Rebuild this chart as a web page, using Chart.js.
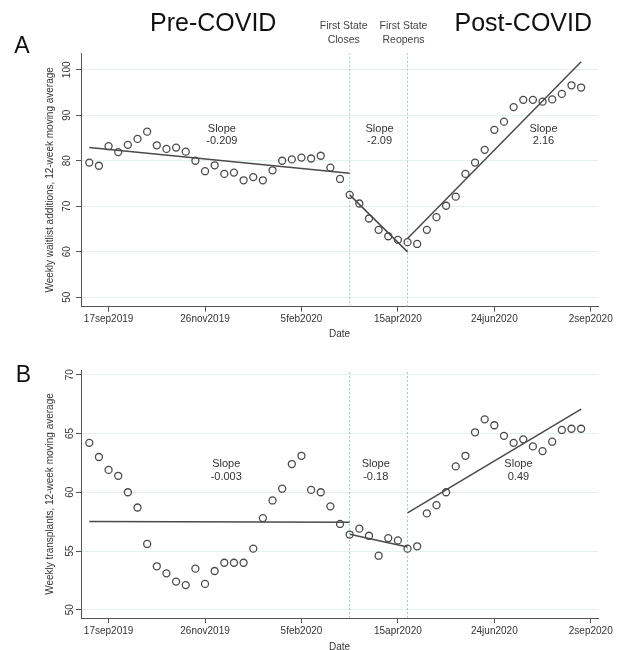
<!DOCTYPE html>
<html>
<head>
<meta charset="utf-8">
<script src="https://cdn.jsdelivr.net/npm/chart.js@4.4.1/dist/chart.umd.min.js"></script>
<style>
  body { margin: 0; background: #fff; }
  #wrap { position: relative; width: 623px; height: 650px; overflow: hidden; }
  canvas { position: absolute; left: 0; }
</style>
</head>
<body>
<div id="wrap">
  <canvas id="chartA" width="623" height="340" style="top:0"></canvas>
  <canvas id="chartB" width="623" height="316" style="top:340px"></canvas>
</div>
<script>
// x values are weeks counted from 17sep2019; first observation is 3sep2019
const firstWeek = -2;

const waitlist = [79.6, 78.9, 83.2, 81.9, 83.5, 84.8, 86.4, 83.4, 82.6, 82.9,
  82.0, 80.0, 77.7, 79.0, 77.1, 77.4, 75.7, 76.4, 75.7, 77.9,
  80.0, 80.3, 80.7, 80.5, 81.1, 78.5, 76.0, 72.5, 70.6, 67.3,
  64.8, 63.4, 62.6, 62.1, 61.7, 64.8, 67.6, 70.1, 72.1, 77.1,
  79.6, 82.4, 86.8, 88.6, 91.8, 93.4, 93.4, 93.0, 93.5, 94.7,
  96.6, 96.1];

const transplants = [64.2, 63.0, 61.9, 61.4, 60.0, 58.7, 55.6, 53.7, 53.1, 52.4,
  52.1, 53.5, 52.2, 53.3, 54.0, 54.0, 54.0, 55.2, 57.8, 59.3,
  60.3, 62.4, 63.1, 60.2, 60.0, 58.8, 57.3, 56.4, 56.9, 56.3,
  54.6, 56.1, 55.9, 55.2, 55.4, 58.2, 58.9, 60.0, 62.2, 63.1,
  65.1, 66.2, 65.7, 64.8, 64.2, 64.5, 63.9, 63.5, 64.3, 65.3,
  65.4, 65.4];

// segment borders (weeks): pre-COVID, closed, reopened
const segmentWeeks = [-2, 25, 31, 49];
const closeWeek = 25;   // first state closes
const reopenWeek = 31;  // first state reopens

const slopesA = [-0.209, -2.09, 2.16];
const fitStartA = [82.9, 72.5, 62.9];
const slopesB = [-0.003, -0.18, 0.49];
const fitStartB = [57.52, 56.42, 58.25];

// where the "Slope" notes sit (week, value)
const slopeNoteWeeksA = [11.75, 28.1, 45.1];
const slopeNoteValueA = 87.0;
const slopeNoteWeeksB = [12.2, 27.7, 42.5];
const slopeNoteValueB = 62.4;

const xTickWeeks = [0, 10, 20, 30, 40, 50];
const xTickLabels = ['17sep2019', '26nov2019', '5feb2020', '15apr2020', '24jun2020', '2sep2020'];
const yTicksA = [50, 60, 70, 80, 90, 100];
const yTicksB = [50, 55, 60, 65, 70];

const FONT = "'Liberation Sans', Arial, sans-serif";
const INK = '#4a4a4a';
const TEXT = '#333';

function fitLines(starts, slopes) {
  return starts.map((s, i) => {
    const x0 = segmentWeeks[i], x1 = segmentWeeks[i + 1];
    return {
      type: 'line',
      data: [{ x: x0, y: s }, { x: x1, y: s + slopes[i] * (x1 - x0) }],
      borderColor: INK,
      borderWidth: 1.5,
      pointRadius: 0,
      order: 1,
    };
  });
}

function vLine(week, yMin, yMax) {
  return {
    type: 'line',
    data: [{ x: week, y: yMin }, { x: week, y: yMax }],
    borderColor: '#96cfcf',
    borderDash: [2, 2],
    borderWidth: 1,
    pointRadius: 0,
    order: 3,
  };
}

const notesPlugin = {
  id: 'notes',
  afterDraw(chart, args, opts) {
    const ctx = chart.ctx;
    const x = chart.scales.x, y = chart.scales.y;
    ctx.save();
    ctx.fillStyle = TEXT;
    ctx.textAlign = 'center';
    ctx.textBaseline = 'middle';
    ctx.font = '11px ' + FONT;
    opts.noteWeeks.forEach((w, i) => {
      const px = x.getPixelForValue(w);
      const py = y.getPixelForValue(opts.noteValue);
      ctx.fillText('Slope', px, py);
      ctx.fillText(String(opts.slopes[i]), px, py + 12.5);
    });
    // panel letter
    ctx.fillStyle = '#111';
    ctx.font = '23px ' + FONT;
    ctx.fillText(opts.letter, opts.letterX, opts.letterY);
    if (opts.header) {
      ctx.font = '25px ' + FONT;
      ctx.fillText('Pre-COVID', x.getPixelForValue(10.85), 24);
      ctx.fillText('Post-COVID', x.getPixelForValue(43), 24);
      ctx.fillStyle = '#444';
      ctx.font = '10.5px ' + FONT;
      const cx = x.getPixelForValue(closeWeek) - 6;
      const rx = x.getPixelForValue(reopenWeek) - 4;
      ctx.fillText('First State', cx, 26);
      ctx.fillText('Closes', cx, 40);
      ctx.fillText('First State', rx, 26);
      ctx.fillText('Reopens', rx, 40);
    }
    ctx.restore();
  },
};

function makeChart(canvasId, cfg) {
  const ctx = document.getElementById(canvasId).getContext('2d');
  const points = cfg.values.map((v, i) => ({ x: firstWeek + i, y: v }));
  return new Chart(ctx, {
    type: 'scatter',
    data: {
      datasets: [
        {
          data: points,
          showLine: false,
          pointStyle: 'circle',
          pointRadius: 3.5,
          pointBorderWidth: 1.3,
          borderColor: INK,
          backgroundColor: 'rgba(255,255,255,0)',
          order: 0,
        },
        ...fitLines(cfg.fitStart, cfg.slopes),
        vLine(closeWeek, cfg.yMin, cfg.yMax),
        vLine(reopenWeek, cfg.yMin, cfg.yMax),
      ],
    },
    options: {
      responsive: false,
      devicePixelRatio: 1,
      animation: false,
      events: [],
      layout: { padding: { top: cfg.top, right: 25, left: 0, bottom: 0 } },
      plugins: {
        legend: { display: false },
        tooltip: { enabled: false },
        notes: {
          noteWeeks: cfg.noteWeeks,
          noteValue: cfg.noteValue,
          slopes: cfg.slopes,
          letter: cfg.letter,
          letterX: cfg.letterX,
          letterY: cfg.letterY,
          header: cfg.header,
        },
      },
      scales: {
        x: {
          type: 'linear',
          min: -2.86,
          max: 50.75,
          afterBuildTicks: (s) => { s.ticks = xTickWeeks.map((v) => ({ value: v })); },
          afterFit: (s) => { s.height = cfg.xAxisHeight; },
          border: { color: '#555', width: 1 },
          grid: { drawOnChartArea: false, tickColor: '#555', tickLength: 5 },
          ticks: {
            padding: 2,
            color: TEXT,
            font: { family: FONT, size: 10 },
            maxRotation: 0,
            callback: (v) => xTickLabels[xTickWeeks.indexOf(v)],
          },
          title: {
            display: true,
            text: 'Date',
            color: TEXT,
            font: { family: FONT, size: 10 },
            padding: { top: 0, bottom: cfg.datePad },
          },
        },
        y: {
          type: 'linear',
          min: cfg.yMin,
          max: cfg.yMax,
          afterBuildTicks: (s) => { s.ticks = cfg.yTicks.map((v) => ({ value: v })); },
          afterFit: (s) => { s.width = 81; },
          border: { color: '#555', width: 1 },
          grid: { color: '#e6eff0', tickColor: '#555', tickLength: 5 },
          ticks: {
            minRotation: 90,
            maxRotation: 90,
            crossAlign: 'center',
            padding: 0,
            color: TEXT,
            font: { family: FONT, size: 10 },
          },
          title: {
            display: true,
            text: cfg.yTitle,
            color: TEXT,
            font: { family: FONT, size: 10 },
            padding: { top: 44, bottom: 0 },
          },
        },
      },
    },
    plugins: [notesPlugin],
  });
}

makeChart('chartA', {
  values: waitlist,
  fitStart: fitStartA,
  slopes: slopesA,
  noteWeeks: slopeNoteWeeksA,
  noteValue: slopeNoteValueA,
  yMin: 47.9,
  yMax: 103.7,
  yTicks: yTicksA,
  yTitle: 'Weekly waitlist additions, 12-week moving average',
  top: 53,
  xAxisHeight: 33.3,
  datePad: 0,
  letter: 'A',
  letterX: 22,
  letterY: 47,
  header: true,
});

makeChart('chartB', {
  values: transplants,
  fitStart: fitStartB,
  slopes: slopesB,
  noteWeeks: slopeNoteWeeksB,
  noteValue: slopeNoteValueB,
  yMin: 49.3,
  yMax: 70.4,
  yTicks: yTicksB,
  yTitle: 'Weekly transplants, 12-week moving average',
  top: 30,
  xAxisHeight: 38,
  datePad: 3,
  letter: 'B',
  letterX: 23.5,
  letterY: 36,
  header: false,
});
</script>
</body>
</html>
